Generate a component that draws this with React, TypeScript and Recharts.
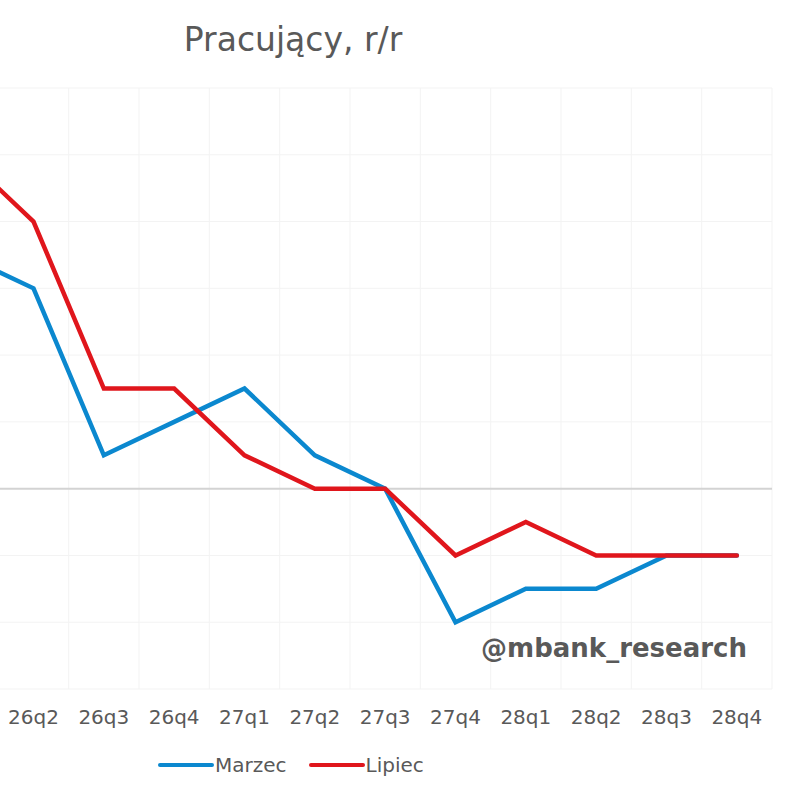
import React from "react";
import { LineChart, Line, XAxis, YAxis, CartesianGrid, ReferenceLine } from "recharts";

// Quarterly employment growth, y/y (%), two forecast vintages
const quarters = ["26q1", "26q2", "26q3", "26q4", "27q1", "27q2", "27q3", "27q4", "28q1", "28q2", "28q3", "28q4"];
const marzec = [0.35, 0.3, 0.05, 0.1, 0.15, 0.05, 0.0, -0.2, -0.15, -0.15, -0.1, -0.1];
const lipiec = [0.5, 0.4, 0.15, 0.15, 0.05, 0.0, 0.0, -0.1, -0.05, -0.1, -0.1, -0.1];
const yTicks = [-0.3, -0.2, -0.1, 0, 0.1, 0.2, 0.3, 0.4, 0.5, 0.6];

const series = [
  { key: "marzec", name: "Marzec", color: "#0B88CF" },
  { key: "lipiec", name: "Lipiec", color: "#E0161C" },
];

const data = quarters.map((q, i) => ({ idx: i, q, marzec: marzec[i], lipiec: lipiec[i] }));
// the first quarter sits left of the visible frame, so its label is not drawn
const labelTicks = quarters.map((_, i) => i).slice(1);
const boundaries = [...quarters.map((_, i) => i - 0.5), quarters.length - 0.5];

const FONT = "'DejaVu Sans', Verdana, sans-serif";
const TEXT = "#595959";

export default function App() {
  return (
    <div
      style={{
        position: "fixed",
        left: 0,
        top: 0,
        width: 800,
        height: 800,
        overflow: "hidden",
        background: "#ffffff",
        fontFamily: FONT,
      }}
    >
      <div style={{ position: "absolute", left: 0, width: 586, top: 18, textAlign: "center", fontSize: 33, color: TEXT, lineHeight: "44px" }}>
        Pracujący, r/r
      </div>
      <div style={{ position: "absolute", left: -72, top: 0 }}>
        <LineChart width={872} height={800} data={data} margin={{ top: 88, right: 28, bottom: 81, left: 0 }}>
          <CartesianGrid stroke="#f3f3f3" strokeWidth={1} xAxisId="grid" />
          <XAxis
            xAxisId="grid"
            type="number"
            dataKey="idx"
            domain={[-0.5, quarters.length - 0.5]}
            ticks={boundaries}
            hide
          />
          <XAxis
            type="number"
            dataKey="idx"
            domain={[-0.5, quarters.length - 0.5]}
            ticks={labelTicks}
            interval={0}
            tickFormatter={(v: number) => quarters[v] ?? ""}
            axisLine={false}
            tickLine={false}
            tickSize={0}
            tickMargin={21}
            height={30}
            tick={{ fill: TEXT, fontSize: 20, fontFamily: FONT }}
          />
          <YAxis type="number" domain={[-0.3, 0.6]} ticks={yTicks} hide />
          <ReferenceLine y={0} stroke="#d3d3d3" strokeWidth={2} />
          {series.map((s) => (
            <Line
              key={s.key}
              type="linear"
              dataKey={s.key}
              name={s.name}
              stroke={s.color}
              strokeWidth={4.5}
              strokeLinecap="round"
              dot={false}
              activeDot={false}
              isAnimationActive={false}
            />
          ))}
        </LineChart>
      </div>
      <div
        style={{
          position: "absolute",
          right: 53,
          top: 628,
          fontSize: 26,
          fontWeight: "bold",
          color: TEXT,
          lineHeight: "40px",
        }}
      >
        @mbank_research
      </div>
      <div style={{ position: "absolute", left: 158, top: 750, display: "flex", alignItems: "center", fontSize: 20, color: TEXT, lineHeight: "30px" }}>
        {series.map((s) => (
          <div key={s.key} style={{ display: "flex", alignItems: "center", marginRight: 22 }}>
            <svg width={56} height={10} style={{ marginRight: 1 }}>
              <line x1={2} y1={5} x2={54} y2={5} stroke={s.color} strokeWidth={4} strokeLinecap="round" />
            </svg>
            <span>{s.name}</span>
          </div>
        ))}
      </div>
    </div>
  );
}
